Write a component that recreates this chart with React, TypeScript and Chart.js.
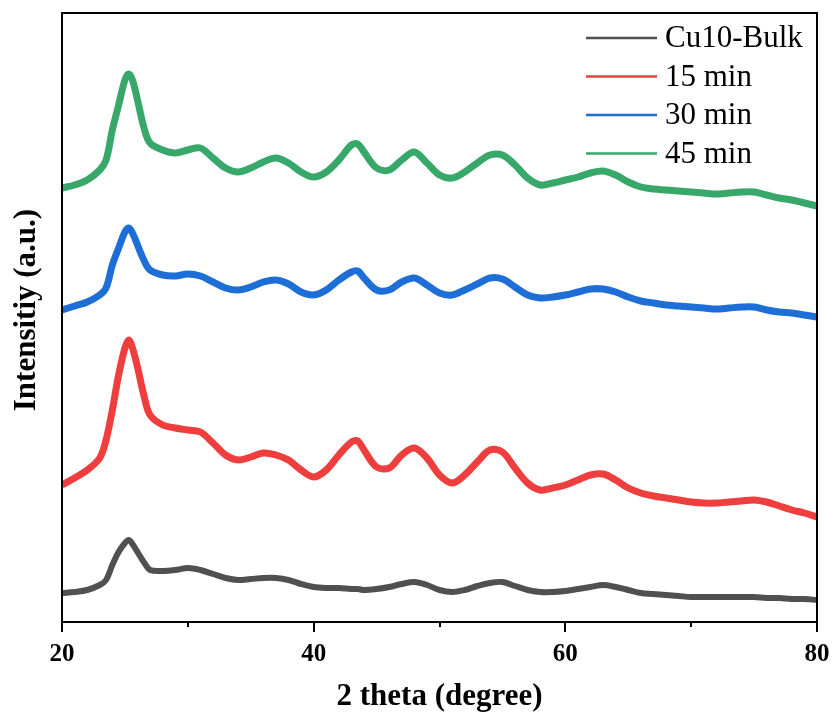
import React, { useEffect, useRef } from "react";
import { Chart, registerables } from "chart.js";

Chart.register(...registerables);

const twoTheta = [20, 21, 22, 23, 23.5, 24, 24.5, 25, 25.3, 25.6, 26, 26.5, 27, 28, 29, 30, 31, 32, 33, 34, 35, 36, 37, 38, 39, 40, 41, 42, 43, 43.5, 44, 45, 46, 47, 48, 49, 50, 51, 52, 53, 54, 55, 56, 57, 58, 59, 60, 61, 62, 63, 64, 65, 66, 67, 68, 69, 70, 71, 72, 73, 74, 75, 76, 77, 78, 79, 80];

const bulk = [29, 30, 32, 37, 42, 57, 70, 79, 82, 78, 70, 60, 52, 51, 52, 54, 52, 48, 44, 42, 43, 44, 44, 42, 38, 35, 34, 34, 33, 33, 32, 33, 35, 38, 40, 37, 32, 30, 32, 36, 39, 40, 36, 32, 30, 30, 31, 33, 35, 37, 35, 32, 29, 28, 27, 26, 25, 25, 25, 25, 25, 25, 24, 24, 23, 23, 22];

const min15 = [137, 144, 152, 164, 182, 212, 247, 274, 282, 274, 255, 227, 207, 197, 194, 192, 190, 179, 167, 162, 165, 169, 167, 162, 152, 145, 152, 167, 180, 181, 172, 155, 154, 167, 174, 164, 147, 139, 147, 160, 172, 170, 154, 139, 132, 134, 137, 142, 147, 148, 142, 134, 129, 126, 124, 122, 120, 119, 119, 120, 121, 122, 120, 116, 112, 109, 105];

const min30 = [312, 316, 320, 327, 334, 357, 374, 390, 394, 389, 377, 362, 352, 347, 346, 348, 346, 340, 334, 332, 335, 340, 342, 338, 330, 327, 332, 342, 350, 351, 344, 332, 332, 340, 344, 337, 329, 327, 332, 338, 344, 343, 335, 327, 324, 325, 327, 330, 333, 333, 330, 325, 321, 319, 317, 316, 315, 314, 313, 314, 315, 315, 312, 310, 309, 307, 305];

const min45 = [434, 437, 442, 452, 462, 492, 517, 542, 548, 542, 522, 495, 479, 472, 469, 472, 474, 464, 454, 450, 454, 460, 464, 459, 450, 445, 450, 462, 477, 478, 470, 454, 452, 462, 470, 459, 447, 444, 450, 459, 467, 467, 457, 444, 437, 439, 442, 445, 449, 451, 447, 440, 435, 433, 432, 431, 430, 429, 428, 429, 430, 430, 427, 424, 422, 419, 416];

const seriesLabels = ["Cu10-Bulk", "15 min", "30 min", "45 min"];
const seriesColors = ["rgb(80,80,80)", "rgb(238,62,62)", "rgb(30,110,215)", "rgb(55,168,105)"];
const seriesValues = [bulk, min15, min30, min45];
const xTicks = [20, 30, 40, 50, 60, 70, 80];

const SERIF = '"Liberation Serif", "Times New Roman", serif';

const framePlugin = {
  id: "frameAndTicks",
  afterDraw(chart: any) {
    const { ctx, chartArea } = chart;
    const xs = chart.scales.x;
    ctx.save();
    ctx.strokeStyle = "#000";
    ctx.lineWidth = 2;
    ctx.strokeRect(chartArea.left, chartArea.top, chartArea.right - chartArea.left, chartArea.bottom - chartArea.top);
    for (const v of xTicks) {
      const px = Math.round(xs.getPixelForValue(v));
      const len = v % 20 === 0 ? 10 : 5;
      ctx.beginPath();
      ctx.moveTo(px, chartArea.bottom);
      ctx.lineTo(px, chartArea.bottom + len);
      ctx.stroke();
    }
    // y title
    ctx.font = `bold 31px ${SERIF}`;
    ctx.fillStyle = "#000";
    ctx.textAlign = "center";
    ctx.textBaseline = "middle";
    ctx.translate(27, 310);
    ctx.rotate(-Math.PI / 2);
    ctx.fillText("Intensitiy (a.u.)", 0, 0);
    ctx.restore();

    // legend
    ctx.save();
    const ds = chart.data.datasets;
    ctx.font = `31px ${SERIF}`;
    ctx.textAlign = "left";
    ctx.textBaseline = "middle";
    ds.forEach((d: any, i: number) => {
      const y = 38 + i * 38.5;
      ctx.strokeStyle = d.borderColor;
      ctx.lineWidth = 2.5;
      ctx.beginPath();
      ctx.moveTo(586, y);
      ctx.lineTo(657, y);
      ctx.stroke();
      ctx.fillStyle = "#000";
      ctx.fillText(d.label, 665, y + 1);
    });
    ctx.restore();
  },
};

export default function App() {
  const ref = useRef<HTMLCanvasElement>(null);
  useEffect(() => {
    document.body.style.margin = "0";
    const canvas = ref.current!;
    const chart = new Chart(canvas, {
      type: "line",
      data: {
        datasets: seriesValues.map((vals, i) => ({
          label: seriesLabels[i],
          data: twoTheta.map((t, j) => ({ x: t, y: vals[j] })),
          borderColor: seriesColors[i],
          borderWidth: i === 0 ? 6 : 7,
          pointRadius: 0,
          tension: 0.35,
          borderJoinStyle: "round" as const,
          fill: false,
        })),
      },
      options: {
        responsive: false,
        animation: false,
        layout: { padding: { left: 0, right: 16, top: 13, bottom: 6 } },
        plugins: { legend: { display: false }, tooltip: { enabled: false } },
        scales: {
          x: {
            type: "linear",
            min: 20,
            max: 80,
            grid: { display: false },
            border: { display: false },
            afterBuildTicks(scale: any) {
              scale.ticks = xTicks.map((v) => ({ value: v }));
            },
            ticks: {
              padding: 10,
              color: "#000",
              font: { family: SERIF, size: 25, weight: "bold" },
              callback: (v: any) => (Number(v) % 20 === 0 ? String(v) : ""),
              maxRotation: 0,
              autoSkip: false,
            },
            title: {
              display: true,
              text: "2 theta (degree)",
              color: "#000",
              font: { family: SERIF, size: 31, weight: "bold" },
              padding: { top: 0, bottom: 0 },
            },
            afterFit(scale: any) {
              scale.height = 722 - 622 - 6;
              scale.paddingLeft = 0;
              scale.paddingRight = 0;
            },
          },
          y: {
            min: 0,
            max: 609,
            grid: { display: false },
            border: { display: false },
            ticks: { display: false },
            afterFit(scale: any) {
              scale.width = 62;
            },
          },
        },
      },
      plugins: [framePlugin],
    });
    return () => chart.destroy();
  }, []);
  return <canvas ref={ref} width={833} height={722} style={{ display: "block" }} />;
}
